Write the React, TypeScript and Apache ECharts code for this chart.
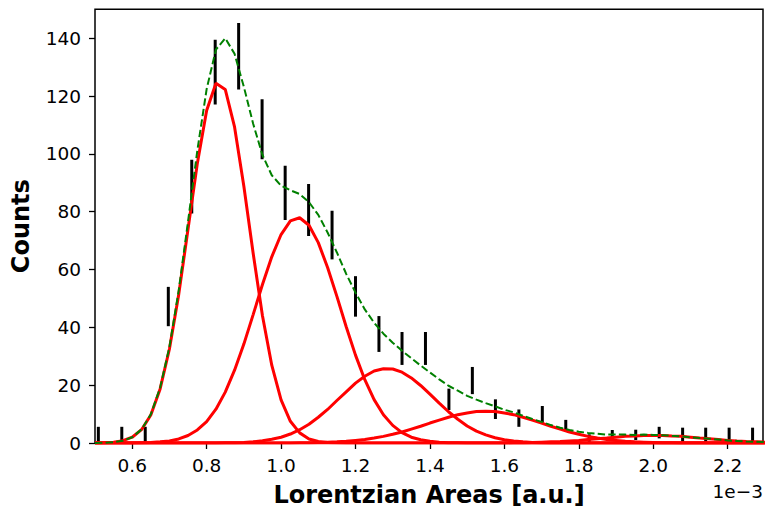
import React, { useEffect, useRef } from "react";
import * as echarts from "echarts";

// Histogram bins (x in units of 1e-3), counts and their error bars
const binCenters = [
  0.509, 0.572, 0.635, 0.697, 0.760, 0.823, 0.886, 0.949, 1.011, 1.074,
  1.137, 1.200, 1.263, 1.325, 1.388, 1.451, 1.514, 1.576, 1.639, 1.702,
  1.765, 1.828, 1.890, 1.953, 2.016, 2.079, 2.141, 2.204, 2.267,
];
const binCounts = [
  2.8, 2.8, 2.8, 47.2, 88.7, 128.3, 133.8, 108.5, 86.5, 80.6,
  71.9, 50.7, 37.7, 32.7, 32.7, 15.1, 21.6, 11.7, 8.6, 9.7,
  6.0, 1.7, 3.0, 2.8, 3.6, 2.7, 2.7, 2.7, 2.7,
];
const binErrors = [
  2.8, 2.8, 2.8, 6.8, 9.3, 11.2, 11.5, 10.4, 9.4, 9.0,
  8.4, 7.0, 6.2, 5.7, 5.7, 3.7, 4.7, 3.4, 3.0, 3.1,
  2.0, 1.3, 1.5, 1.8, 2.0, 2.6, 2.6, 2.6, 2.6,
];

// Sample positions of the fitted curves
const xGrid = [
  0.5, 0.525, 0.55, 0.575, 0.6, 0.625, 0.65, 0.675, 0.7, 0.725,
  0.75, 0.775, 0.8, 0.825, 0.85, 0.875, 0.9, 0.925, 0.95, 0.975,
  1.0, 1.025, 1.05, 1.075, 1.1, 1.125, 1.15, 1.175, 1.2, 1.225,
  1.25, 1.275, 1.3, 1.325, 1.35, 1.375, 1.4, 1.425, 1.45, 1.475,
  1.5, 1.525, 1.55, 1.575, 1.6, 1.625, 1.65, 1.675, 1.7, 1.725,
  1.75, 1.775, 1.8, 1.825, 1.85, 1.875, 1.9, 1.925, 1.95, 1.975,
  2.0, 2.025, 2.05, 2.075, 2.1, 2.125, 2.15, 2.175, 2.2, 2.225,
  2.25, 2.275, 2.3,
];

// Fitted components (red)
const componentA = [
  0.0, 0.1, 0.3, 0.8, 2.0, 4.6, 9.7, 18.7, 32.5, 51.4,
  74.0, 96.7, 115.0, 124.4, 122.3, 109.3, 88.8, 65.6, 44.0, 26.9,
  14.9, 7.5, 3.5, 1.4, 0.5, 0.2, 0.1, 0, 0, 0,
  0, 0, 0, 0, 0, 0, 0, 0, 0, 0,
  0, 0, 0, 0, 0, 0, 0, 0, 0, 0,
  0, 0, 0, 0, 0, 0, 0, 0, 0, 0,
  0, 0, 0, 0, 0, 0, 0, 0, 0, 0,
  0, 0, 0,
];
const componentB = [
  0, 0, 0, 0, 0, 0.1, 0.2, 0.4, 0.7, 1.4,
  2.6, 4.5, 7.4, 11.7, 17.6, 25.2, 34.2, 44.4, 54.8, 64.4,
  72.1, 76.8, 77.9, 75.3, 69.3, 60.7, 50.7, 40.2, 30.4, 21.9,
  15.0, 9.8, 6.1, 3.6, 2.0, 1.1, 0.6, 0.3, 0.1, 0.1,
  0, 0, 0, 0, 0, 0, 0, 0, 0, 0,
  0, 0, 0, 0, 0, 0, 0, 0, 0, 0,
  0, 0, 0, 0, 0, 0, 0, 0, 0, 0,
  0, 0, 0,
];
const componentC = [
  0, 0, 0, 0, 0, 0, 0, 0, 0, 0,
  0, 0, 0, 0, 0.1, 0.1, 0.2, 0.4, 0.8, 1.3,
  2.0, 3.1, 4.6, 6.5, 8.9, 11.6, 14.7, 17.7, 20.7, 23.1,
  24.9, 25.7, 25.6, 24.5, 22.5, 19.9, 16.9, 13.8, 10.8, 8.2,
  5.9, 4.1, 2.8, 1.8, 1.1, 0.7, 0.4, 0.2, 0.1, 0,
  0, 0, 0, 0, 0, 0, 0, 0, 0, 0,
  0, 0, 0, 0, 0, 0, 0, 0, 0, 0,
  0, 0, 0,
];
const componentD = [
  0, 0, 0, 0, 0, 0, 0, 0, 0, 0,
  0, 0, 0, 0, 0, 0, 0, 0, 0, 0,
  0, 0, 0.1, 0.1, 0.2, 0.3, 0.4, 0.6, 0.9, 1.2,
  1.7, 2.3, 3.0, 3.8, 4.8, 5.8, 6.9, 7.9, 8.9, 9.8,
  10.4, 10.9, 11.0, 10.9, 10.4, 9.8, 8.9, 7.9, 6.9, 5.8,
  4.8, 3.8, 3.0, 2.3, 1.7, 1.2, 0.9, 0.6, 0.4, 0.3,
  0.2, 0.1, 0.1, 0, 0, 0, 0, 0, 0, 0,
  0, 0, 0,
];
const componentE = [
  0, 0, 0, 0, 0, 0, 0, 0, 0, 0,
  0, 0, 0, 0, 0, 0, 0, 0, 0, 0,
  0, 0, 0, 0, 0, 0, 0, 0, 0, 0,
  0, 0, 0, 0, 0, 0, 0, 0, 0, 0,
  0, 0, 0, 0, 0, 0.1, 0.1, 0.2, 0.3, 0.4,
  0.5, 0.7, 0.9, 1.2, 1.5, 1.7, 2.0, 2.3, 2.4, 2.6,
  2.6, 2.6, 2.4, 2.3, 2.0, 1.7, 1.5, 1.2, 0.9, 0.7,
  0.5, 0.4, 0.3,
];
// Total fit (green dashed)
const totalFit = [
  0.0, 0.1, 0.3, 0.8, 2.0, 4.7, 9.9, 19.1, 33.2, 52.8,
  76.6, 101.2, 122.4, 136.1, 140.0, 134.6, 123.2, 110.4, 99.6, 92.6,
  89.0, 87.4, 86.1, 83.3, 78.9, 72.8, 65.9, 58.5, 52.0, 46.2,
  41.6, 37.8, 34.7, 31.9, 29.3, 26.8, 24.4, 22.0, 19.8, 18.1,
  16.3, 15.0, 13.8, 12.7, 11.5, 10.6, 9.4, 8.3, 7.3, 6.2,
  5.3, 4.5, 3.9, 3.5, 3.2, 2.9, 2.9, 2.9, 2.8, 2.9,
  2.8, 2.7, 2.5, 2.3, 2.0, 1.7, 1.5, 1.2, 0.9, 0.7,
  0.5, 0.4, 0.3,
];

const xTickValues = [0.6, 0.8, 1.0, 1.2, 1.4, 1.6, 1.8, 2.0, 2.2];
const yTickValues = [0, 20, 40, 60, 80, 100, 120, 140];
const xAxisTitle = "Lorentzian Areas [a.u.]";
const yAxisTitle = "Counts";
const offsetText = "1e\u22123";

const FONT = "DejaVu Sans";

export default function App() {
  const ref = useRef<HTMLDivElement>(null);
  useEffect(() => {
    document.body.style.margin = "0";
    if (!ref.current) return;
    const chart = echarts.init(ref.current, undefined, { renderer: "svg" });
    const pairs = (ys: number[]) => xGrid.map((x, i) => [x, ys[i]]);
    const redLine = (name: string, ys: number[]) => ({
      name,
      type: "line",
      data: pairs(ys),
      showSymbol: false,
      symbol: "none",
      clip: true,
      z: 3,
      lineStyle: { color: "#ff0000", width: 3 },
    });
    const option: any = {
      animation: false,
      backgroundColor: "#ffffff",
      textStyle: { fontFamily: FONT },
      grid: {
        left: 95,
        right: 3,
        top: 9.3,
        bottom: 67,
        show: true,
        borderColor: "#000",
        borderWidth: 1.5,
        backgroundColor: "transparent",
        outerBoundsMode: "none",
      },
      xAxis: {
        type: "value",
        min: 0.5,
        max: 2.295,
        name: xAxisTitle,
        nameLocation: "middle",
        nameGap: 40,
        nameTextStyle: { fontFamily: FONT, fontSize: 24, fontWeight: "bold", color: "#000" },
        axisLine: { show: false },
        splitLine: { show: false },
        axisTick: {
          show: true,
          customValues: xTickValues,
          length: 6,
          lineStyle: { color: "#000", width: 1.3 },
        },
        axisLabel: {
          customValues: xTickValues,
          formatter: (v: number) => v.toFixed(1),
          fontFamily: FONT,
          fontSize: 18.5,
          color: "#000",
          margin: 13,
        },
      },
      yAxis: {
        type: "value",
        min: 0,
        max: 150,
        name: yAxisTitle,
        nameLocation: "middle",
        nameGap: 62,
        nameTextStyle: { fontFamily: FONT, fontSize: 24, fontWeight: "bold", color: "#000" },
        axisLine: { show: false },
        splitLine: { show: false },
        axisTick: {
          show: true,
          customValues: yTickValues,
          length: 6,
          lineStyle: { color: "#000", width: 1.3 },
        },
        axisLabel: {
          customValues: yTickValues,
          fontFamily: FONT,
          fontSize: 18.5,
          color: "#000",
          margin: 14,
        },
      },
      graphic: [
        {
          type: "text",
          right: 3,
          top: 482,
          style: { text: offsetText, font: `18.5px '${FONT}'`, fill: "#000" },
        },
      ],
      series: [
        {
          name: "counts",
          type: "custom",
          clip: true,
          z: 2,
          data: binCenters.map((x, i) => [x, binCounts[i], binErrors[i]]),
          renderItem: (_p: any, api: any) => {
            const x = api.value(0);
            const c = api.value(1);
            const e = api.value(2);
            const p1 = api.coord([x, c - e]);
            const p2 = api.coord([x, c + e]);
            return {
              type: "line",
              shape: { x1: p1[0], y1: p1[1], x2: p2[0], y2: p2[1] },
              style: { stroke: "#000", lineWidth: 3 },
            };
          },
        },
        redLine("A", componentA),
        redLine("B", componentB),
        redLine("C", componentC),
        redLine("D", componentD),
        redLine("E", componentE),
        {
          name: "fit",
          type: "line",
          data: pairs(totalFit),
          showSymbol: false,
          symbol: "none",
          clip: true,
          z: 4,
          lineStyle: { color: "#008000", width: 2, type: [7.4, 3.2] },
        },
      ],
    };
    chart.setOption(option);
    return () => chart.dispose();
  }, []);
  return <div ref={ref} style={{ width: 766, height: 510 }} />;
}
